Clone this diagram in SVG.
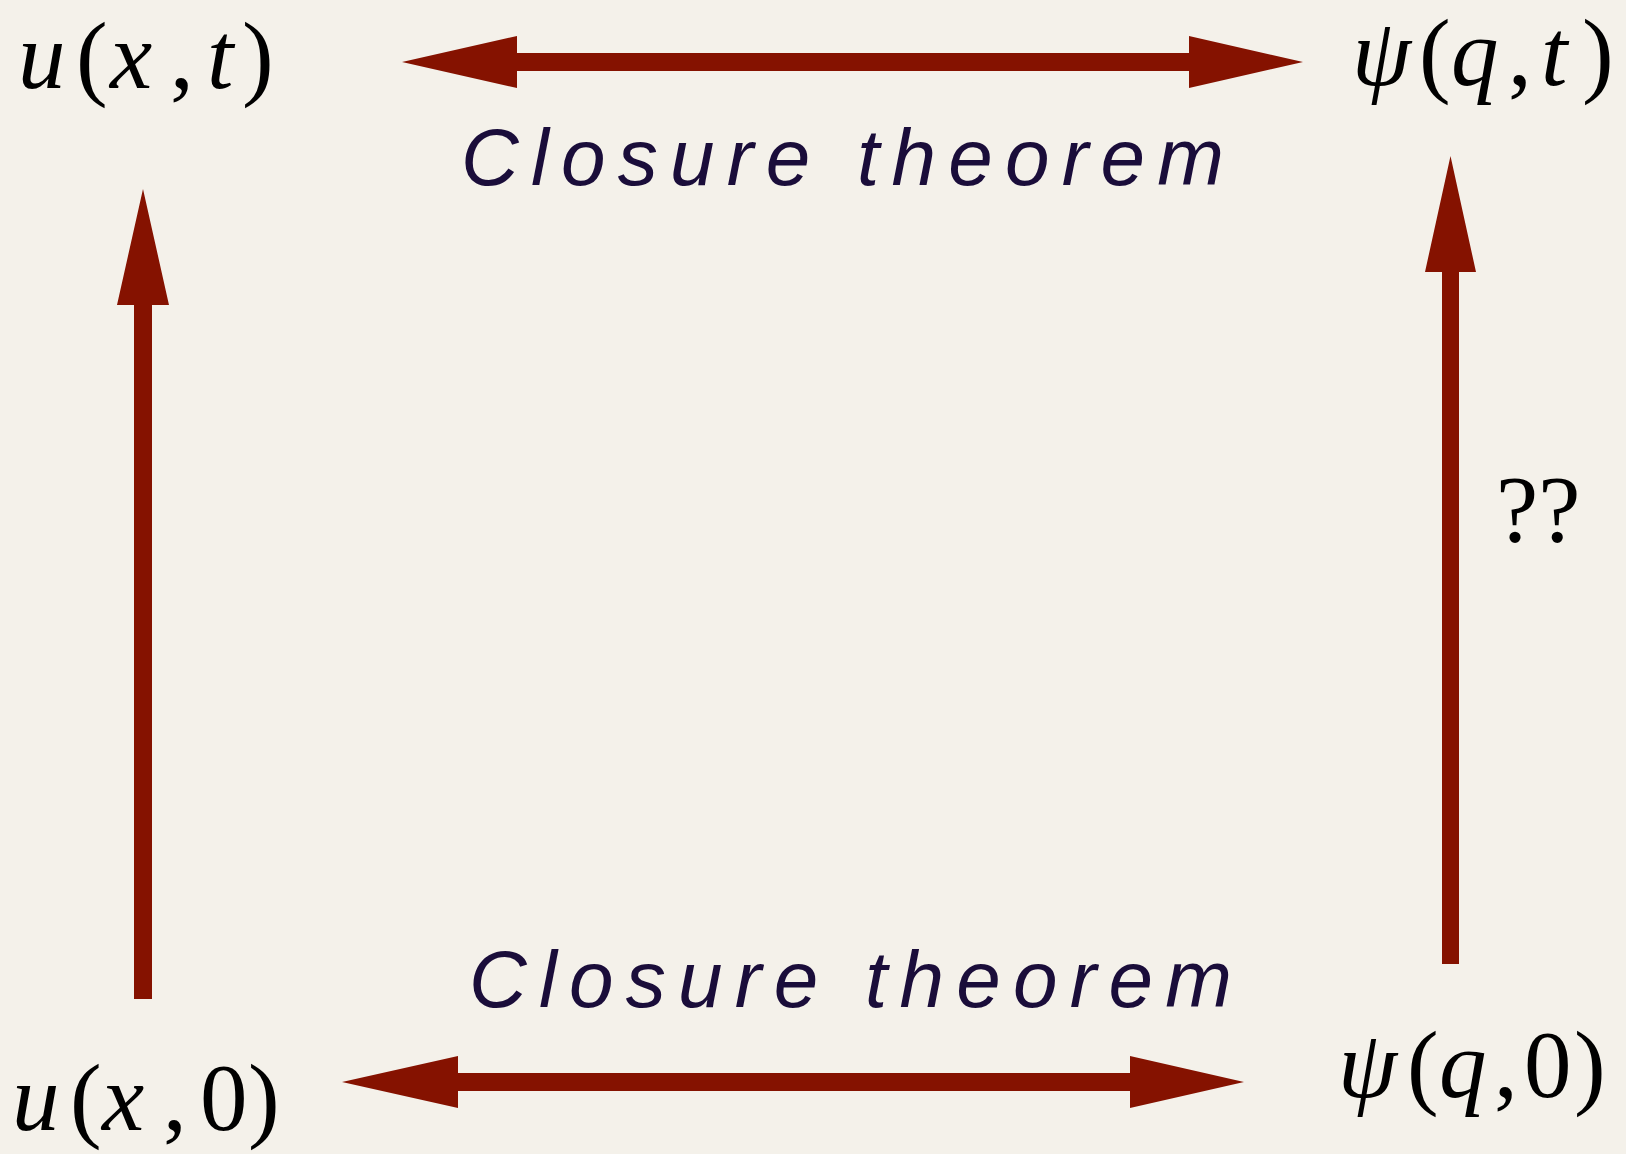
<svg xmlns="http://www.w3.org/2000/svg" width="1626" height="1154" viewBox="0 0 1626 1154">
<style>
.bg{fill:#f4f1ea}
.arrow{fill:#851200}
.math{font-family:"Liberation Serif","Times New Roman",serif;font-size:95px;fill:#000}
.it{font-style:italic}
.hand{font-family:"Liberation Sans",Arial,sans-serif;font-style:italic;font-size:80px;fill:#1a0d3a}
</style>
<rect class="bg" x="0" y="0" width="1626" height="1154"/>
<g id="connectors">
<polygon class="arrow" points="402,62 517,36 517,53 1189,53 1189,36 1303,62 1189,88 1189,71 517,71 517,88"/>
<polygon class="arrow" points="342,1082 458,1056 458,1073 1130,1073 1130,1056 1244,1082 1130,1108 1130,1091 458,1091 458,1108"/>
<polygon class="arrow" points="143,189 169,305 152,305 152,999 134,999 134,305 117,305"/>
<polygon class="arrow" points="1450.5,156 1476,272 1459,272 1459,964 1442,964 1442,272 1425,272"/>
<text class="hand" x="461" y="185" textLength="763" lengthAdjust="spacing">Closure  theorem</text>
<text class="hand" x="469" y="1007" textLength="763" lengthAdjust="spacing">Closure  theorem</text>
<text class="math" x="1496" y="542">??</text>
</g>
<g id="node-u-x-t">
<text class="math" y="88"><tspan class="it" x="18">u</tspan><tspan x="76">(</tspan><tspan class="it" x="110">x</tspan><tspan x="170">,</tspan><tspan class="it" x="207">t</tspan><tspan x="242">)</tspan></text>
</g>
<g id="node-psi-q-t">
<text class="math" y="85"><tspan class="it" x="1352">ψ</tspan><tspan x="1419">(</tspan><tspan class="it" x="1451">q</tspan><tspan x="1508">,</tspan><tspan class="it" x="1541">t</tspan><tspan x="1582">)</tspan></text>
</g>
<g id="node-u-x-0">
<text class="math" y="1130"><tspan class="it" x="12">u</tspan><tspan x="70">(</tspan><tspan class="it" x="102">x</tspan><tspan x="163">,</tspan><tspan x="200">0</tspan><tspan x="248">)</tspan></text>
</g>
<g id="node-psi-q-0">
<text class="math" y="1097"><tspan class="it" x="1338">ψ</tspan><tspan x="1407">(</tspan><tspan class="it" x="1439">q</tspan><tspan x="1494">,</tspan><tspan x="1524">0</tspan><tspan x="1574">)</tspan></text>
</g>
</svg>
